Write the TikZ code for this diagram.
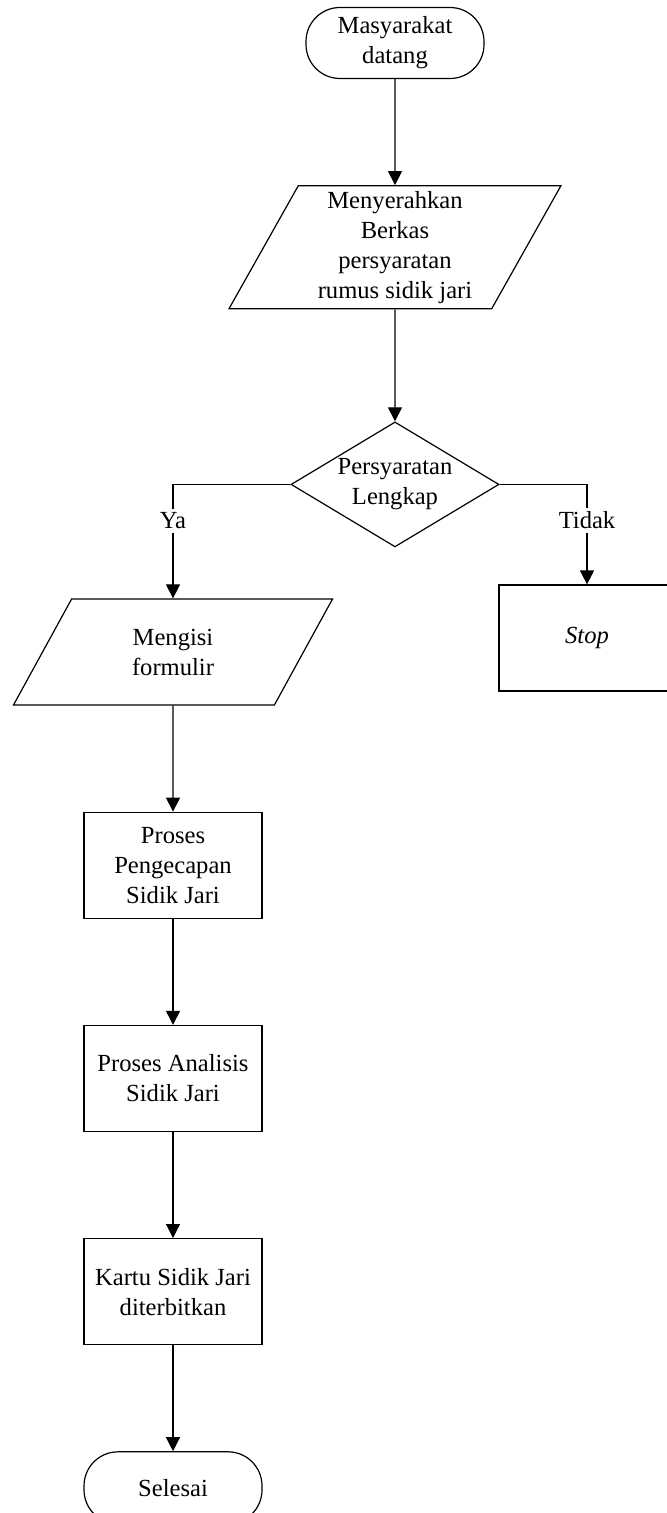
\documentclass[tikz,border=0pt]{standalone}
\usepackage{fontspec}
\setmainfont{Liberation Serif}
\usepackage{tikz}
\usetikzlibrary{positioning, shapes.geometric, arrows.meta}

\begin{document}
\begin{tikzpicture}[
        % Define styles for the components
        terminal/.style={rectangle, draw, align=center, rounded corners=17pt, minimum height=35.5pt, minimum width=89pt},
        io/.style={trapezium, trapezium left angle=64, trapezium right angle=116, trapezium stretches=true, draw, align=center, inner sep=1pt},
        process/.style={rectangle, draw, align=center, minimum height=53pt, minimum width=89pt},
        decision/.style={diamond, draw, align=center, aspect=1.66, inner sep=0pt, minimum width=104pt, minimum height=62.5pt},
        arrow/.style={-{Triangle[width=7pt,length=7pt]}},
        lbl/.style={fill=white, inner sep=2pt},
        node distance=53pt,
        every node/.style={font=\fontsize{12.3}{15}\selectfont},
        line width=0.6pt
    ]
    \useasboundingbox (0,0) rectangle (333.5pt,-756.5pt);

    % Define nodes
    \node[terminal] (mulai) at (197.5pt,-21.5pt) {Masyarakat\\datang};
    \node[io, below=53pt of mulai, minimum height=61.5pt, minimum width=166pt] (berkas) {Menyerahkan\\Berkas\\persyaratan\\rumus sidik jari};
    \node[decision, below=56pt of berkas] (cek) {Persyaratan\\Lengkap};
    \node[io, minimum height=53pt, minimum width=160.5pt] (formulir) at (86.5pt,-326pt) {Mengisi\\formulir};
    \node[process, minimum width=88pt] (stop) at (293.5pt,-319pt) {\textit{Stop}};
    \node[process, below=of formulir] (pengecapan) {Proses\\Pengecapan\\Sidik Jari};
    \node[process, below=of pengecapan] (analisis) {Proses Analisis\\Sidik Jari};
    \node[process, below=of analisis] (kartu) {Kartu Sidik Jari\\diterbitkan};
    \node[terminal, below=of kartu, minimum height=36pt] (selesai) {Selesai};

    % Draw arrows
    \draw[arrow] (mulai) -- (berkas);
    \draw[arrow] (berkas) -- (cek);
    \draw[arrow] (cek.west) -| node[lbl, pos=0.66] {Ya} (formulir.north);
    \draw[arrow] (cek.east) -| node[lbl, pos=0.68] {Tidak} (stop.north);
    \draw[arrow] (formulir) -- (pengecapan);
    \draw[arrow] (pengecapan) -- (analisis);
    \draw[arrow] (analisis) -- (kartu);
    \draw[arrow] (kartu) -- (selesai);
\end{tikzpicture}
\end{document}
